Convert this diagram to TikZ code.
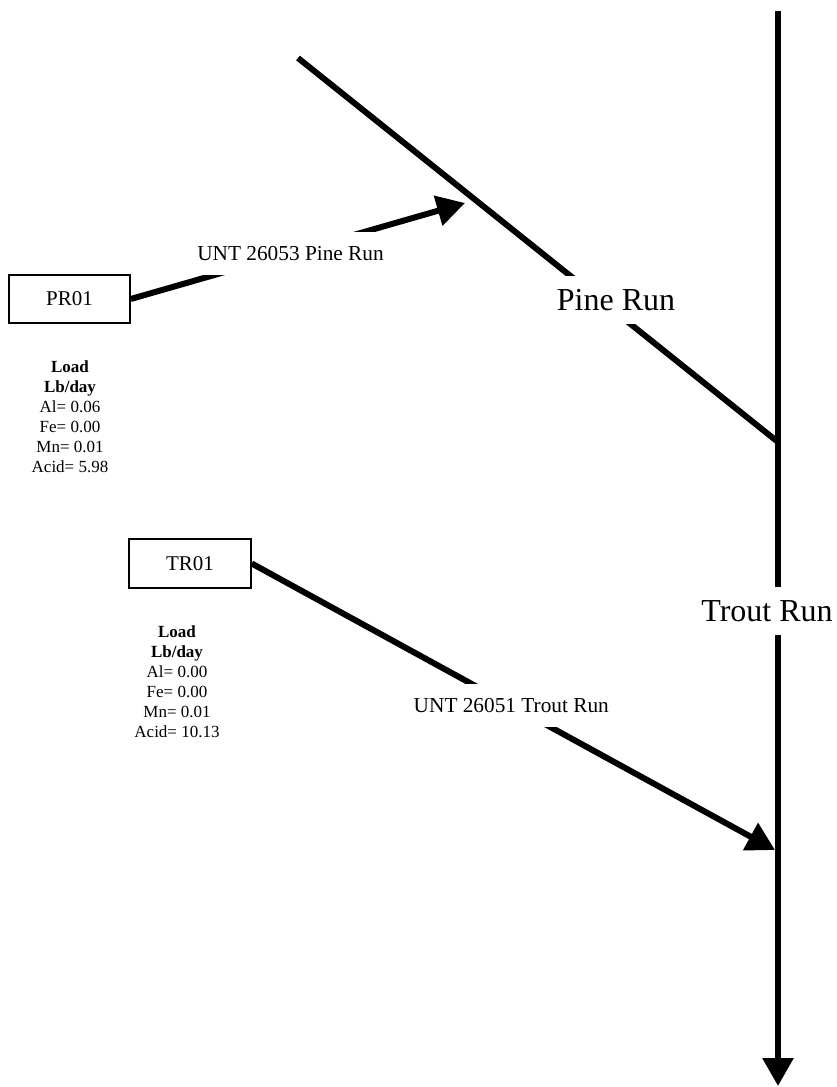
\documentclass[tikz,border=0pt]{standalone}
\usepackage{fontspec}
\setmainfont{Liberation Serif}
\usetikzlibrary{arrows.meta}
\begin{document}
\begin{tikzpicture}[x=1pt,y=-1pt,
  flow/.style={line width=6pt},
  tip/.style={-{Triangle[length=28pt,width=30pt]}},
  station/.style={draw,line width=1.5pt,minimum width=121pt,minimum height=48pt,inner sep=0pt,font=\fontsize{21pt}{25pt}\selectfont},
  streamlabel/.style={fill=white,inner xsep=1pt,inner ysep=0pt,minimum height=43pt,font=\fontsize{21.3pt}{25pt}\selectfont},
  riverlabel/.style={fill=white,inner xsep=1pt,inner ysep=0pt,minimum height=48pt,font=\fontsize{32pt}{38pt}\selectfont},
  load/.style={align=center,inner sep=0pt,font=\fontsize{17pt}{20pt}\selectfont}]
\useasboundingbox (0,0) rectangle (836,1087);
\coordinate (vtop) at (778,11);
\coordinate (vbot) at (778,1086);
\coordinate (pinetop) at (298,58);
\coordinate (pinejoin) at (778,442);
\coordinate (pinein) at (465,203);
\coordinate (troutin) at (775,850);

\node[station] (pr01) at (69.5,299) {PR01};
\node[station, minimum width=122pt, minimum height=49pt] (tr01) at (190,563.5) {TR01};

\draw[flow] (pinetop) -- (pinejoin);
\node[riverlabel] (pinelabel) at (616,300) {Pine Run};

\draw[flow,tip] (vtop) -- (vbot);
\node[riverlabel] (troutlabel) at (767,611) {Trout Run};

\draw[flow,tip] (pr01.east) -- (pinein) node[streamlabel,pos=0.478] (untpine) {UNT 26053 Pine Run};
\draw[flow,tip] (tr01.east) -- (troutin) node[streamlabel,pos=0.496] (unttrout) {UNT 26051 Trout Run};

\node[load] (prload) at (70,417) {\textbf{Load}\\\textbf{Lb/day}\\Al= 0.06\\Fe= 0.00\\Mn= 0.01\\Acid= 5.98};
\node[load] (trload) at (177,681.5) {\textbf{Load}\\\textbf{Lb/day}\\Al= 0.00\\Fe= 0.00\\Mn= 0.01\\Acid= 10.13};
\end{tikzpicture}
\end{document}
